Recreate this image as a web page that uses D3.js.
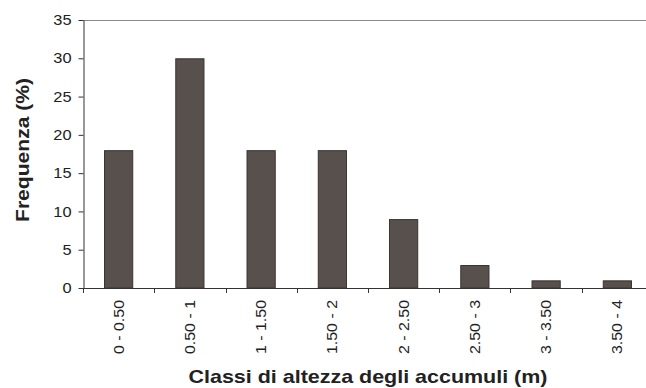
<!DOCTYPE html>
<html>
<head>
<meta charset="utf-8">
<script src="https://cdn.jsdelivr.net/npm/d3@7"></script>
<style>
  html, body { margin: 0; padding: 0; background: #fff; }
  svg { display: block; font-family: "Liberation Sans", Arial, sans-serif; }
</style>
</head>
<body>
<svg id="chart" width="646" height="388"></svg>
<script>
// Height classes of the deposits and their frequency (%)
const categories = ["0 - 0.50", "0.50 - 1", "1 - 1.50", "1.50 - 2", "2 - 2.50", "2.50 - 3", "3 - 3.50", "3.50 - 4"];
const frequencies = [18, 30, 18, 18, 9, 3, 1, 1];
const yTicks = [0, 5, 10, 15, 20, 25, 30, 35];
const xTitle = "Classi di altezza degli accumuli (m)";
const yTitle = "Frequenza (%)";

const svg = d3.select("#chart");
const plot = { left: 83, right: 653, top: 20, bottom: 288 };

const x = d3.scaleBand()
  .domain(categories)
  .range([plot.left, plot.right])
  .paddingInner(0.59)
  .paddingOuter(0.295);

const y = d3.scaleLinear()
  .domain([0, 35])
  .range([plot.bottom, plot.top]);

// Widen text along its baseline (the typeface used is broader than Liberation Sans)
function stretch(sel, k) {
  sel.each(function () {
    const len = this.getComputedTextLength();
    d3.select(this).attr("textLength", len * k).attr("lengthAdjust", "spacingAndGlyphs");
  });
}

// Top frame line
svg.append("line")
  .attr("x1", plot.left).attr("x2", plot.right)
  .attr("y1", plot.top + 0.5).attr("y2", plot.top + 0.5)
  .attr("stroke", "#8a8a8a").attr("stroke-width", 1);

// Bars
svg.append("g").selectAll("rect")
  .data(frequencies)
  .join("rect")
  .attr("x", (d, i) => x(categories[i]) + 0.5)
  .attr("y", d => y(d) + 0.5)
  .attr("width", x.bandwidth() - 1)
  .attr("height", d => y(0) - y(d) - 0.5)
  .attr("fill", "#58504d")
  .attr("stroke", "#3a3432")
  .attr("stroke-width", 1);

// Y axis
const yAxis = svg.append("g")
  .attr("transform", `translate(${plot.left + 0.5},0)`)
  .call(d3.axisLeft(y).tickValues(yTicks).tickSize(5).tickPadding(7).tickSizeOuter(0));
yAxis.select(".domain").attr("stroke", "#333");
yAxis.selectAll(".tick line").attr("stroke", "#333");
yAxis.selectAll(".tick text")
  .attr("font-family", "Liberation Sans, Arial, sans-serif")
  .attr("font-size", 14.5)
  .attr("fill", "#222")
  .call(stretch, 1.13);

// X axis: baseline, ticks at category boundaries, rotated labels
const xg = svg.append("g");
xg.append("line")
  .attr("x1", plot.left).attr("x2", plot.right)
  .attr("y1", plot.bottom + 0.5).attr("y2", plot.bottom + 0.5)
  .attr("stroke", "#333");
const step = x.step();
const boundaries = categories.map(c => x(c) - x.paddingOuter() * step);
xg.selectAll("line.tick")
  .data(boundaries)
  .join("line")
  .attr("class", "tick")
  .attr("x1", d => Math.round(d) + 0.5).attr("x2", d => Math.round(d) + 0.5)
  .attr("y1", plot.bottom).attr("y2", plot.bottom + 5)
  .attr("stroke", "#333");
xg.selectAll("text")
  .data(categories)
  .join("text")
  .attr("transform", d => `translate(${x(d) + x.bandwidth() / 2},${plot.bottom + 12}) rotate(-90)`)
  .attr("text-anchor", "end")
  .attr("dy", "0.35em")
  .attr("font-size", 14.5)
  .attr("fill", "#222")
  .text(d => d)
  .call(stretch, 1.1);

// Axis titles
svg.append("text")
  .attr("x", (plot.left + plot.right) / 2)
  .attr("y", 383)
  .attr("text-anchor", "middle")
  .attr("font-size", 18.5)
  .attr("font-weight", "bold")
  .attr("fill", "#222")
  .text(xTitle)
  .call(stretch, 1.16);

svg.append("text")
  .attr("transform", "translate(29,150) rotate(-90)")
  .attr("text-anchor", "middle")
  .attr("font-size", 18)
  .attr("font-weight", "bold")
  .attr("fill", "#222")
  .text(yTitle)
  .call(stretch, 1.17);
</script>
</body>
</html>
